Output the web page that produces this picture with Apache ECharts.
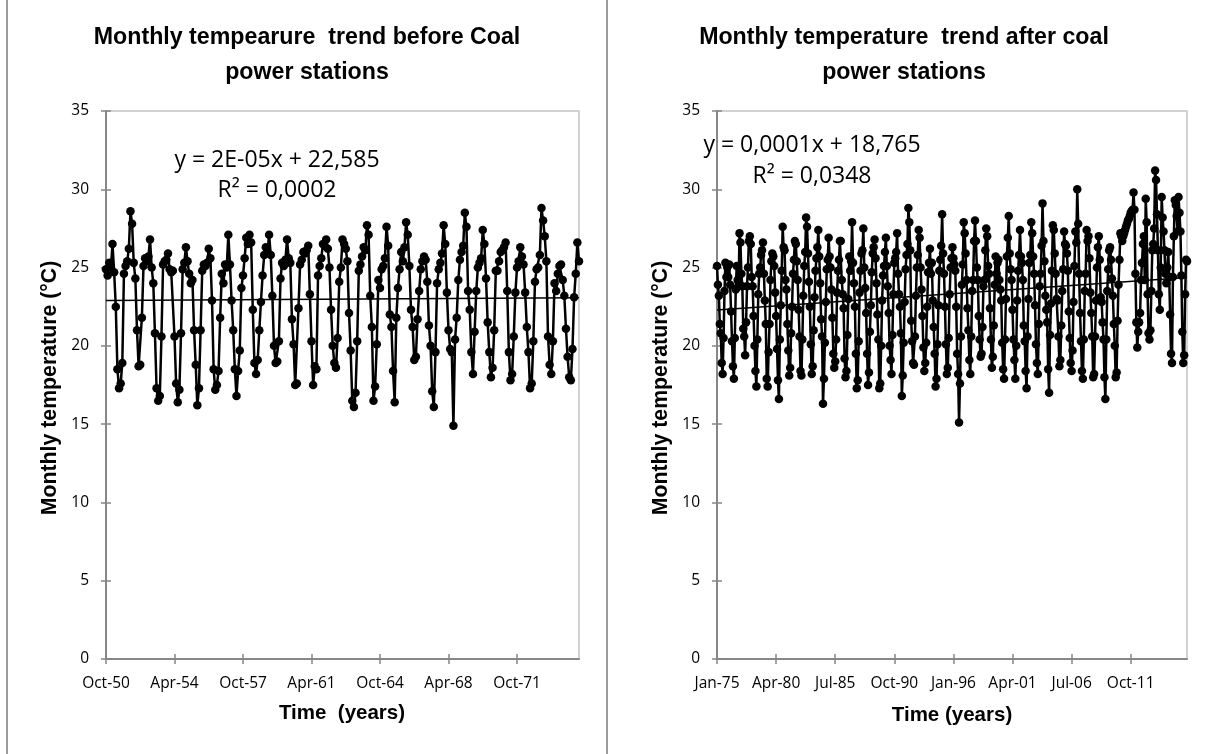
<!DOCTYPE html>
<html>
<head>
<meta charset="utf-8">
<script src="https://cdn.jsdelivr.net/npm/echarts@6/dist/echarts.min.js"></script>
<style>
  html, body { margin: 0; padding: 0; background: #fff; }
  #chart { width: 1214px; height: 754px; }
</style>
</head>
<body>
<div id="chart"></div>
<script>
// Monthly mean temperature (°C), October 1950 – December 1974
const beforeStart = { year: 1950, month: 10 };
const beforeTemps = [
  24.9, 24.5, 25.3,
  25.0, 26.5, 24.7, 22.5, 18.5, 17.3, 17.6, 18.9, 24.6, 25.1, 25.4, 26.2,
  28.6, 27.8, 25.3, 24.3, 21.0, 18.7, 18.8, 21.8, 25.1, 25.6, 25.4, 25.7,
  26.8, 25.0, 24.0, 20.8, 17.3, 16.5, 16.8, 20.6, 25.2, 25.4, 25.5, 25.9,
  24.9, 24.7, 24.8, 20.6, 17.6, 16.4, 17.2, 20.8, 24.9, 25.3, 26.3, 25.4,
  24.6, 24.0, 24.2, 21.0, 18.8, 16.2, 17.3, 21.0, 24.8, 25.2, 25.1, 25.3,
  26.2, 25.6, 22.9, 18.5, 17.2, 17.5, 18.4, 21.8, 24.6, 24.0, 25.2, 25.0,
  27.1, 25.2, 22.9, 21.0, 18.5, 16.8, 18.4, 19.7, 23.7, 24.5, 25.6, 26.9,
  26.5, 27.1, 26.6, 22.3, 18.9, 18.2, 19.1, 21.0, 22.8, 24.5, 25.8, 26.3,
  26.0, 27.1, 25.8, 23.2, 20.0, 18.9, 19.0, 20.3, 24.3, 25.3, 25.1, 25.5,
  26.8, 25.6, 25.3, 21.7, 20.1, 17.5, 17.6, 22.4, 25.2, 25.5, 26.0, 25.9,
  26.1, 26.4, 23.3, 20.3, 17.5, 18.7, 18.5, 24.5, 25.1, 25.6, 26.5, 26.4,
  26.8, 26.2, 25.0, 22.3, 20.0, 18.9, 18.6, 20.5, 24.1, 25.0, 26.8, 26.5,
  26.2, 25.4, 22.1, 19.7, 16.5, 16.1, 17.0, 20.3, 24.8, 25.2, 25.7, 26.3,
  26.1, 27.7, 27.1, 23.2, 21.2, 16.5, 17.4, 20.1, 24.2, 23.7, 24.9, 25.1,
  25.6, 27.6, 26.4, 22.0, 21.2, 18.4, 16.4, 21.8, 23.7, 24.9, 26.0, 25.4,
  26.3, 27.9, 27.1, 25.1, 22.3, 21.2, 19.1, 19.3, 21.7, 23.5, 24.9, 25.4,
  25.7, 25.5, 24.1, 21.3, 20.0, 17.1, 16.1, 19.6, 24.0, 24.9, 25.3, 25.9,
  27.7, 26.5, 23.4, 21.0, 19.8, 19.6, 14.9, 20.4, 21.8, 24.2, 25.5, 26.0,
  26.4, 28.5, 27.6, 23.5, 22.3, 19.6, 18.2, 20.9, 23.5, 25.0, 25.3, 25.6,
  27.4, 26.5, 24.3, 21.5, 19.6, 18.0, 18.6, 21.0, 24.8, 24.8, 25.4, 26.0,
  26.1, 26.3, 26.6, 23.5, 19.6, 17.8, 18.2, 20.6, 23.4, 25.0, 25.4, 26.3,
  25.7, 25.2, 23.4, 21.2, 19.6, 17.3, 17.6, 20.3, 24.1, 24.9, 25.0, 25.8,
  28.8, 28.0, 27.0, 25.4, 20.6, 18.8, 18.2, 20.3, 24.0, 23.5, 24.6, 25.1,
  25.2, 24.2, 23.2, 21.1, 19.3, 18.0, 17.8, 19.8, 23.1, 24.6, 26.6, 25.4
];

// Monthly mean temperature (°C), January 1975 – October 2016
const afterStart = { year: 1975, month: 1 };
const afterTemps = [
  25.1, 23.9, 23.2, 21.4, 20.8, 18.9, 18.2, 20.5, 23.5, 25.3, 24.4, 25.0,
  24.4, 25.2, 23.9, 22.2, 20.3, 18.7, 17.9, 20.5, 23.6, 25.1, 24.2, 23.8,
  27.2, 26.6, 24.6, 23.8, 21.1, 20.6, 19.4, 21.5, 23.8, 25.0, 26.7, 27.0,
  26.5, 24.4, 23.8, 21.9, 20.0, 18.4, 17.4, 20.4, 23.3, 24.6, 25.0, 25.8,
  26.1, 26.6, 24.6, 22.9, 21.4, 17.9, 17.4, 19.6, 21.4, 24.2, 25.4, 25.9,
  25.7, 25.1, 23.4, 21.9, 19.8, 17.8, 16.6, 20.4, 22.6, 24.8, 27.6, 26.3,
  26.1, 24.2, 23.6, 21.4, 19.7, 18.1, 18.6, 20.8, 22.5, 24.6, 25.5, 26.7,
  26.5, 25.4, 24.2, 22.3, 20.6, 18.4, 18.1, 20.4, 23.2, 25.1, 26.0, 28.2,
  27.6, 25.9, 24.1, 22.5, 20.1, 18.2, 18.7, 21.0, 23.1, 24.8, 25.6, 26.3,
  27.4, 25.7, 24.0, 21.7, 20.6, 16.3, 17.9, 20.2, 22.8, 24.9, 25.5, 26.9,
  25.7, 25.0, 23.6, 21.8, 19.5, 18.6, 19.0, 20.4, 23.4, 24.8, 25.5, 26.7,
  26.7, 24.2, 23.3, 22.4, 19.2, 18.0, 18.4, 20.7, 23.0, 25.7, 24.8, 25.4,
  27.9, 25.3, 24.0, 22.5, 19.5, 17.3, 17.8, 20.3, 23.4, 24.8, 25.9, 26.1,
  27.5, 25.0, 23.7, 22.1, 19.5, 17.5, 18.3, 20.9, 22.6, 24.7, 25.9, 26.3,
  26.8, 25.6, 24.0, 22.0, 20.4, 17.3, 17.6, 20.0, 22.9, 24.5, 25.1, 26.0,
  26.9, 25.1, 23.8, 22.1, 20.0, 19.1, 18.2, 20.7, 23.3, 25.3, 25.6, 26.0,
  27.2, 24.6, 23.3, 22.5, 20.8, 16.8, 18.1, 20.2, 22.8, 24.9, 25.8, 26.5,
  28.8, 27.9, 26.1, 21.6, 20.3, 18.9, 18.8, 20.6, 23.2, 25.0, 25.8, 27.4,
  26.9, 25.0, 23.6, 21.9, 19.9, 18.4, 18.9, 20.2, 22.5, 24.7, 25.3, 26.2,
  24.6, 25.3, 22.9, 21.2, 19.5, 17.4, 17.9, 20.1, 22.6, 24.8, 25.5, 26.4,
  28.4, 25.9, 24.6, 22.5, 20.1, 18.2, 18.6, 20.5, 23.3, 25.0, 25.6, 26.3,
  25.6, 25.2, 24.8, 22.5, 19.5, 18.2, 15.1, 17.6, 20.6, 23.9, 25.2, 27.9,
  27.2, 25.9, 24.2, 22.4, 21.0, 19.1, 18.2, 20.6, 23.5, 24.2, 26.7, 28.0,
  26.7, 25.0, 24.2, 21.9, 20.4, 19.3, 19.5, 21.2, 23.8, 24.2, 26.1, 27.5,
  27.0, 25.1, 24.6, 22.4, 20.4, 18.6, 19.3, 21.3, 23.9, 25.7, 24.6, 25.3,
  25.5, 24.2, 23.6, 22.9, 20.2, 18.5, 17.9, 20.4, 23.0, 25.7, 26.9, 28.3,
  25.9, 24.9, 24.2, 22.3, 20.4, 19.1, 17.9, 20.0, 22.9, 24.8, 25.8, 27.4,
  25.7, 25.3, 24.2, 21.3, 20.3, 18.4, 17.3, 20.6, 23.0, 25.3, 25.8, 27.9,
  27.2, 25.7, 24.6, 22.6, 20.1, 18.9, 18.2, 21.4, 23.8, 24.6, 26.4, 29.1,
  26.7, 25.4, 23.2, 22.3, 21.5, 18.5, 17.0, 20.7, 22.7, 24.8, 27.7, 27.4,
  25.9, 24.6, 23.0, 22.9, 20.6, 18.7, 19.1, 21.3, 23.5, 24.9, 27.3, 26.5,
  26.4, 25.9, 24.8, 22.2, 20.5, 18.9, 18.4, 19.7, 22.8, 25.1, 27.3, 26.6,
  30.0, 27.8, 24.6, 22.1, 20.3, 18.4, 17.9, 20.4, 23.5, 24.6, 27.4, 26.7,
  27.0, 25.6, 23.4, 22.1, 20.6, 18.0, 18.2, 20.6, 22.9, 25.0, 26.3, 27.0,
  25.5, 23.1, 22.8, 21.5, 20.4, 18.0, 16.6, 20.4, 23.5, 24.9, 26.1, 26.3,
  25.5, 24.3, 23.2, 21.4, 20.0, 18.0, 18.3, 21.6, 23.9, 25.5, 27.2, 27.0,
  26.7, 27.0, 27.2, 27.4, 27.6, 27.8, 28.0, 28.1, 28.3, 28.5, 28.6, 28.7,
  29.8, 28.7, 24.6, 21.5, 19.9, 20.9, 21.5, 22.1, 24.2, 25.3, 26.5, 27.0,
  24.2, 29.4, 27.9, 23.3, 20.8, 20.4, 21.0, 23.5, 26.1, 26.5, 27.5, 31.2,
  30.6, 28.4, 26.1, 23.3, 22.3, 25.0, 29.5, 28.2, 27.3, 26.1, 24.6, 24.0,
  25.0, 26.0, 24.4, 22.0, 19.5, 18.9, 24.4, 27.0, 29.3, 29.0, 28.3, 27.3,
  29.5, 28.5, 27.3, 24.5, 20.9, 18.9, 19.4, 23.3, 25.5, 25.4
];

const beforeTicks = ['Oct-50', 'Apr-54', 'Oct-57', 'Apr-61', 'Oct-64', 'Apr-68', 'Oct-71'];
const afterTicks = ['Jan-75', 'Apr-80', 'Jul-85', 'Oct-90', 'Jan-96', 'Apr-01', 'Jul-06', 'Oct-11'];
const yTicks = [0, 5, 10, 15, 20, 25, 30, 35];

const MONTHS = ['Jan', 'Feb', 'Mar', 'Apr', 'May', 'Jun', 'Jul', 'Aug', 'Sep', 'Oct', 'Nov', 'Dec'];
function monthLabels(start, n) {
  const out = [];
  for (let i = 0; i < n; i++) {
    const k = start.month - 1 + i;
    const yy = (start.year + Math.floor(k / 12)) % 100;
    out.push(MONTHS[k % 12] + '-' + String(yy).padStart(2, '0'));
  }
  return out;
}

// ordinary least-squares line through the monthly values (end points only)
function linearTrend(vals) {
  const n = vals.length;
  let sx = 0, sy = 0, sxx = 0, sxy = 0;
  vals.forEach((v, i) => { sx += i; sy += v; sxx += i * i; sxy += i * v; });
  const b = (n * sxy - sx * sy) / (n * sxx - sx * sx);
  const a = (sy - b * sx) / n;
  return vals.map((_, i) => (i === 0 || i === n - 1) ? a + b * i : null);
}

const beforeCats = monthLabels(beforeStart, beforeTemps.length);
const afterCats = monthLabels(afterStart, afterTemps.length);

const LABEL_FONT = 'Open Sans';
const BOLD_FONT = 'Liberation Sans';
const AXIS_GREY = '#878787';

// main category axis (labels + outer tick half)
function xAxisFor(gridIndex, cats, ticks) {
  const show = (i, v) => ticks.indexOf(v) >= 0;
  return {
    type: 'category', gridIndex, data: cats, boundaryGap: false,
    axisLine: { lineStyle: { color: AXIS_GREY, width: 2 } },
    axisTick: { interval: show, length: 5, lineStyle: { color: AXIS_GREY, width: 1.5 } },
    axisLabel: { interval: show, margin: 17, color: '#000', fontFamily: LABEL_FONT, fontSize: 15.5 },
    splitLine: { show: false }
  };
}
// companion axis that only draws the inner tick half, so ticks cross the axis line
function xInnerTicks(gridIndex, cats, ticks) {
  const show = (i, v) => ticks.indexOf(v) >= 0;
  return {
    type: 'category', gridIndex, data: cats, boundaryGap: false, position: 'bottom',
    axisLine: { show: false },
    axisTick: { interval: show, inside: true, length: 5, lineStyle: { color: AXIS_GREY, width: 1.5 } },
    axisLabel: { show: false }, splitLine: { show: false }
  };
}
function yAxisFor(gridIndex) {
  return {
    type: 'value', gridIndex, min: yTicks[0], max: yTicks[yTicks.length - 1], interval: 5,
    axisLine: { show: true, lineStyle: { color: AXIS_GREY, width: 2 } },
    axisTick: { show: true, length: 5, lineStyle: { color: AXIS_GREY, width: 1.5 } },
    axisLabel: { margin: 17, color: '#000', fontFamily: LABEL_FONT, fontSize: 15.5 },
    splitLine: { show: false }
  };
}
function yInnerTicks(gridIndex) {
  return {
    type: 'value', gridIndex, min: yTicks[0], max: yTicks[yTicks.length - 1], interval: 5, position: 'left',
    axisLine: { show: false },
    axisTick: { show: true, inside: true, length: 5, lineStyle: { color: AXIS_GREY, width: 1.5 } },
    axisLabel: { show: false }, splitLine: { show: false }
  };
}
function tempSeries(idx, data) {
  return {
    type: 'line', xAxisIndex: idx, yAxisIndex: idx, data,
    symbol: 'circle', symbolSize: 8.5, showAllSymbol: true,
    itemStyle: { color: '#000' }, lineStyle: { color: '#000', width: 2.5 },
    z: 2
  };
}
function trendSeries(idx, data) {
  return {
    type: 'line', xAxisIndex: idx, yAxisIndex: idx, data: linearTrend(data),
    connectNulls: true, symbol: 'none', lineStyle: { color: '#000', width: 1.5 }, z: 3
  };
}
function text(x, y, str, font, extra) {
  return Object.assign({
    type: 'text', x, y, silent: true,
    style: { text: str, font, fill: '#000', textAlign: 'center', textVerticalAlign: 'middle' }
  }, extra || {});
}

const titleFont = 'bold 23.2px "' + BOLD_FONT + '"';
const yTitleFont = 'bold 21.3px "' + BOLD_FONT + '"';
const xTitleFont = 'bold 20.5px "' + BOLD_FONT + '"';
const eqFont = '23px "' + LABEL_FONT + '"';

const chart = echarts.init(document.getElementById('chart'), null, { renderer: 'canvas' });
chart.setOption({
  animation: false,
  backgroundColor: '#fff',
  grid: [
    { left: 106, top: 111, width: 473, height: 548, show: true, borderColor: '#c4c4c4', borderWidth: 1.5 },
    { left: 717, top: 111, width: 470, height: 548, show: true, borderColor: '#c4c4c4', borderWidth: 1.5 }
  ],
  xAxis: [
    xAxisFor(0, beforeCats, beforeTicks), xAxisFor(1, afterCats, afterTicks),
    xInnerTicks(0, beforeCats, beforeTicks), xInnerTicks(1, afterCats, afterTicks)
  ],
  yAxis: [yAxisFor(0), yAxisFor(1), yInnerTicks(0), yInnerTicks(1)],
  series: [
    tempSeries(0, beforeTemps), trendSeries(0, beforeTemps),
    tempSeries(1, afterTemps), trendSeries(1, afterTemps)
  ],
  graphic: [
    { type: 'line', silent: true, shape: { x1: 7, y1: 0, x2: 7, y2: 754 }, style: { stroke: '#7a7a7a', lineWidth: 1.5 } },
    { type: 'line', silent: true, shape: { x1: 607, y1: 0, x2: 607, y2: 754 }, style: { stroke: '#7a7a7a', lineWidth: 1.5 } },
    text(307, 38, 'Monthly tempearure  trend before Coal', titleFont),
    text(307, 73, 'power stations', titleFont),
    text(904, 38, 'Monthly temperature  trend after coal', titleFont),
    text(904, 73, 'power stations', titleFont),
    text(277, 160, 'y = 2E-05x + 22,585', eqFont),
    text(277, 190, 'R² = 0,0002', eqFont),
    text(812, 145, 'y = 0,0001x + 18,765', eqFont),
    text(812, 176, 'R² = 0,0348', eqFont),
    text(50, 388, 'Monthly temperature (°C)', yTitleFont, { rotation: Math.PI / 2 }),
    text(661, 388, 'Monthly temperature (°C)', yTitleFont, { rotation: Math.PI / 2 }),
    text(342, 713, 'Time  (years)', xTitleFont),
    text(952, 715, 'Time (years)', xTitleFont)
  ]
});
</script>
</body>
</html>
